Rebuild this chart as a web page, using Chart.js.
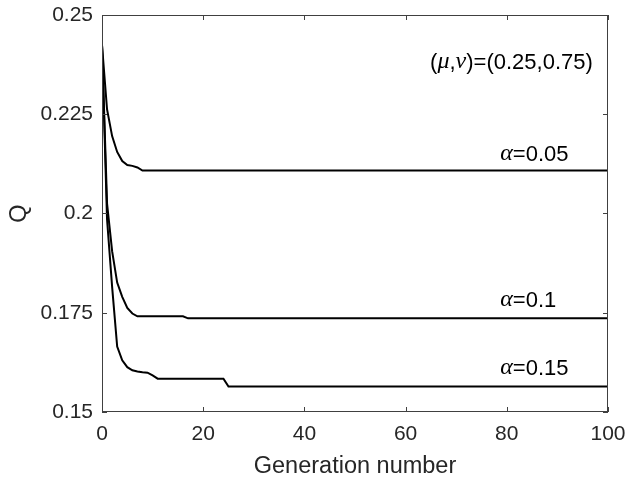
<!doctype html>
<html lang="en">
<head>
  <meta charset="utf-8">
  <title>Q vs generation number</title>
  <script src="https://cdn.jsdelivr.net/npm/chart.js@4"></script>
  <style>
    html, body { margin: 0; padding: 0; background: #fff; }
    #wrap { width: 627px; height: 481px; position: relative; }
  </style>
</head>
<body>
<div id="wrap"><canvas id="chart1"></canvas></div>
<script>
  // values
  const gens05 = [0, 1, 2, 3, 4, 5, 6, 7, 8, 100]
  const q05 = [0.2424, 0.2262, 0.2195, 0.2155, 0.2132, 0.2122, 0.2120, 0.2116, 0.2108, 0.2108]

  const gens10 = [0, 1, 2, 3, 4, 5, 6, 7, 16, 17, 100]
  const q10 = [0.2424, 0.2025, 0.1905, 0.1826, 0.1790, 0.1762, 0.1748, 0.1741, 0.1741, 0.1736, 0.1736]

  const gens15 = [0, 1, 2, 3, 4, 5, 6, 7, 8, 9, 10, 11, 24, 25, 100]
  const q15 = [0.2424, 0.1985, 0.1815, 0.1665, 0.1630, 0.1613, 0.1605, 0.1602, 0.1600, 0.1599, 0.1592, 0.1584, 0.1584, 0.1564, 0.1564]

  const xTicks = [0, 20, 40, 60, 80, 100]
  const yTicks = [0.15, 0.175, 0.2, 0.225, 0.25]

  const textColor = '#262626'
  const axisColor = '#404040'
  const sans = '"Liberation Sans", Arial, sans-serif'
  const serif = '"Liberation Serif", "Times New Roman", serif'

  const toPoints = (xs, ys) => xs.map((x, i) => ({ x: x, y: ys[i] }))

  // pieces: [text, italic greek?]
  const notes = [
    { x: 97, y: 0.2379, align: 'right', parts: [['(', 0], ['\u03BC', 1], [',', 0], ['\u03BD', 1], [')=(0.25,0.75)', 0]] },
    { x: 78.7, y: 0.2147, align: 'left', parts: [['\u03B1', 1], ['=0.05', 0]] },
    { x: 78.7, y: 0.1780, align: 'left', parts: [['\u03B1', 1], ['=0.1', 0]] },
    { x: 78.7, y: 0.1608, align: 'left', parts: [['\u03B1', 1], ['=0.15', 0]] },
  ]

  const boxPlugin = {
    id: 'box',
    afterDraw(chart) {
      const { ctx, chartArea: a, scales } = chart
      ctx.save()
      ctx.strokeStyle = axisColor
      ctx.lineWidth = 1
      ctx.strokeRect(a.left + 0.5, a.top + 0.5, a.right - a.left - 1, a.bottom - a.top - 1)
      const len = 5
      ctx.beginPath()
      for (const t of xTicks) {
        const px = Math.round(scales.x.getPixelForValue(t)) + 0.5
        ctx.moveTo(px, a.bottom); ctx.lineTo(px, a.bottom - len)
        ctx.moveTo(px, a.top); ctx.lineTo(px, a.top + len)
      }
      for (const t of yTicks) {
        const py = Math.round(scales.y.getPixelForValue(t)) + 0.5
        ctx.moveTo(a.left, py); ctx.lineTo(a.left + len, py)
        ctx.moveTo(a.right, py); ctx.lineTo(a.right - len, py)
      }
      ctx.stroke()

      ctx.fillStyle = '#000'
      ctx.textBaseline = 'middle'
      for (const n of notes) {
        const fonts = n.parts.map(p => p[1] ? 'italic 24px ' + serif : '22px ' + sans)
        let w = 0
        const widths = n.parts.map((p, i) => { ctx.font = fonts[i]; const m = ctx.measureText(p[0]).width; w += m; return m })
        let px = scales.x.getPixelForValue(n.x)
        if (n.align === 'right') px -= w
        const py = scales.y.getPixelForValue(n.y)
        ctx.textAlign = 'left'
        n.parts.forEach((p, i) => {
          ctx.font = fonts[i]
          ctx.fillText(p[0], px, py + (p[1] ? -1 : 0))
          px += widths[i]
        })
      }
      ctx.restore()
    }
  }

  const lineStyle = { borderColor: '#000', borderWidth: 2, pointRadius: 0, fill: false, tension: 0 }

  new Chart(document.getElementById('chart1'), {
    type: 'line',
    data: {
      datasets: [
        { label: 'alpha=0.05', data: toPoints(gens05, q05), ...lineStyle },
        { label: 'alpha=0.1', data: toPoints(gens10, q10), ...lineStyle },
        { label: 'alpha=0.15', data: toPoints(gens15, q15), ...lineStyle },
      ]
    },
    options: {
      responsive: true,
      maintainAspectRatio: false,
      animation: false,
      layout: { padding: { left: 0, right: 19, top: 15, bottom: 0 } },
      plugins: { legend: { display: false }, tooltip: { enabled: false } },
      scales: {
        x: {
          type: 'linear',
          min: 0,
          max: 100,
          afterFit: s => { s.height = 69; s.paddingLeft = 0; s.paddingRight = 0 },
          afterBuildTicks: s => { s.ticks = xTicks.map(v => ({ value: v })) },
          grid: { display: false, drawTicks: false },
          border: { display: false },
          ticks: { color: textColor, font: { family: sans, size: 21 }, padding: 10, maxRotation: 0 },
          title: { display: true, text: 'Generation number', color: textColor, font: { family: sans, size: 23.5 }, padding: { top: 0, bottom: 0 } }
        },
        y: {
          type: 'linear',
          min: 0.15,
          max: 0.25,
          afterFit: s => { s.width = 102; s.paddingTop = 0; s.paddingBottom = 0 },
          afterBuildTicks: s => { s.ticks = yTicks.map(v => ({ value: v })) },
          grid: { display: false, drawTicks: false },
          border: { display: false },
          ticks: { color: textColor, font: { family: sans, size: 21 }, padding: 9, callback: v => String(+v.toFixed(3)) },
          title: { display: true, text: 'Q', color: textColor, font: { family: sans, size: 23.5 }, padding: { top: 5, bottom: 0 } }
        }
      }
    },
    plugins: [boxPlugin]
  })
</script>
</body>
</html>
